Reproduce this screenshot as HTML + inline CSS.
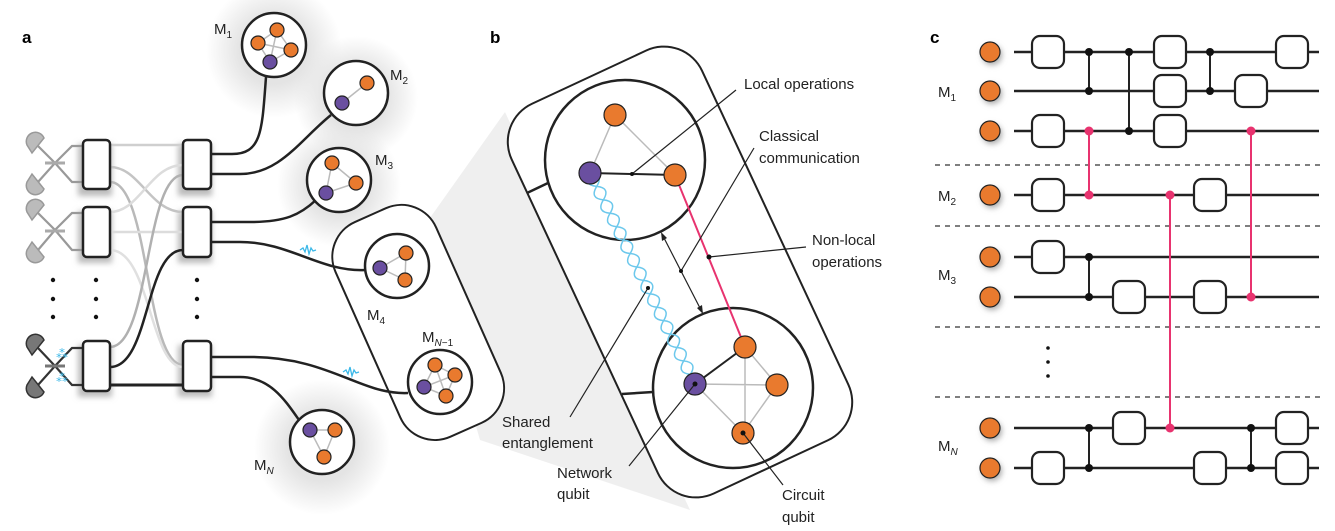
<!DOCTYPE html>
<html><head><meta charset="utf-8"><style>
html,body{margin:0;padding:0;background:#fff;}
svg{display:block;font-family:"Liberation Sans",sans-serif;}
</style></head><body>
<svg width="1335" height="531" viewBox="0 0 1335 531" xmlns="http://www.w3.org/2000/svg">
<defs>
<radialGradient id="halo"><stop offset="0.5" stop-color="#e4e4e4"/><stop offset="1" stop-color="#e4e4e4" stop-opacity="0"/></radialGradient>
<filter id="sh" x="-50%" y="-50%" width="200%" height="200%"><feGaussianBlur stdDeviation="3"/></filter>
</defs>

<!-- labels -->
<text x="22" y="43" font-size="17" font-weight="bold">a</text>
<text x="490" y="43" font-size="17" font-weight="bold">b</text>
<text x="930" y="43" font-size="17" font-weight="bold">c</text>

<!-- halos -->
<circle cx="274" cy="50" r="68" fill="url(#halo)"/>
<circle cx="356" cy="98" r="62" fill="url(#halo)"/>
<circle cx="339" cy="185" r="62" fill="url(#halo)"/>
<circle cx="322" cy="447" r="68" fill="url(#halo)"/>

<!-- gray wedge -->
<polygon points="420,232 505,112 690,510 480,440" fill="#efefef"/>

<!-- panel a: box shadows -->
<g fill="#bbb" filter="url(#sh)">
<rect x="78" y="144" width="34" height="52"/><rect x="78" y="211" width="34" height="52"/><rect x="78" y="345" width="34" height="52"/>
<rect x="178" y="144" width="34" height="52"/><rect x="178" y="211" width="34" height="52"/><rect x="178" y="345" width="34" height="52"/>
</g>

<!-- crossing lines -->
<g fill="none" stroke-width="2.5">
<path d="M110,145 H183" stroke="#cfcfcf"/>
<path d="M110,167 C140,167 150,212 183,212" stroke="#c4c4c4"/>
<path d="M110,182 C150,182 145,365 183,365" stroke="#b9b9b9"/>
<path d="M110,212 C140,212 150,165 183,165" stroke="#dcdcdc"/>
<path d="M110,232 H183" stroke="#dcdcdc"/>
<path d="M110,250 C150,250 150,367 183,367" stroke="#e0e0e0"/>
<path d="M110,347 C150,347 145,175 183,175" stroke="#b0b0b0"/>
<path d="M110,367 C150,367 145,250 183,250" stroke="#222"/>
<path d="M110,385 H183" stroke="#222" stroke-width="3"/>
</g>

<!-- detectors -->
<g stroke-width="2.2" fill="none">
<path d="M38,146 L55,163 L72,182 H83" stroke="#999"/>
<path d="M38,182 L55,163 L72,146 H83" stroke="#999"/>
<path d="M45,163 H65" stroke="#aaa" stroke-width="3"/>
<path d="M38,213 L55,230 L72,250 H83" stroke="#999"/>
<path d="M38,250 L55,230 L72,213 H83" stroke="#999"/>
<path d="M45,231 H65" stroke="#aaa" stroke-width="3"/>
<path d="M38,348 L55,366 L72,385 H83" stroke="#333"/>
<path d="M38,385 L55,366 L72,348 H83" stroke="#333"/>
<path d="M45,366 H65" stroke="#777" stroke-width="3"/>
</g>
<g stroke-width="1.5">
<path d="M27,145 A9,9 0 0 1 44,138 L32,153 Z" fill="#bbb" stroke="#999"/>
<path d="M27,182 A9,9 0 0 0 44,189 L32,174 Z" fill="#bbb" stroke="#999"/>
<path d="M27,212 A9,9 0 0 1 44,205 L32,220 Z" fill="#bbb" stroke="#999"/>
<path d="M27,250 A9,9 0 0 0 44,257 L32,242 Z" fill="#bbb" stroke="#999"/>
<path d="M27,347 A9,9 0 0 1 44,340 L32,355 Z" fill="#777" stroke="#333"/>
<path d="M27,385 A9,9 0 0 0 44,392 L32,377 Z" fill="#777" stroke="#333"/>
</g>
<text x="56" y="358" font-size="12" fill="#3bb8e8">⁂</text>
<text x="56" y="382" font-size="12" fill="#3bb8e8">⁂</text>

<!-- boxes -->
<g fill="#fff" stroke="#222" stroke-width="2.5">
<rect x="83" y="140" width="27" height="49" rx="4"/><rect x="83" y="207" width="27" height="50" rx="4"/><rect x="83" y="341" width="27" height="50" rx="4"/>
<rect x="183" y="140" width="28" height="49" rx="4"/><rect x="183" y="207" width="28" height="50" rx="4"/><rect x="183" y="341" width="28" height="50" rx="4"/>
</g>
<g fill="#111"><circle cx="53" cy="280" r="2.2"/><circle cx="53" cy="299" r="2.2"/><circle cx="53" cy="317" r="2.2"/>
<circle cx="96" cy="280" r="2.2"/><circle cx="96" cy="299" r="2.2"/><circle cx="96" cy="317" r="2.2"/>
<circle cx="197" cy="280" r="2.2"/><circle cx="197" cy="299" r="2.2"/><circle cx="197" cy="317" r="2.2"/></g>

<!-- module box M4/MN-1 -->
<rect x="363" y="205" width="110" height="235" rx="38" transform="rotate(-24 418 322)" fill="#fff" stroke="#222" stroke-width="2"/>

<!-- connections to modules -->
<g fill="none" stroke="#222" stroke-width="2.5">
<path d="M211,154 H232 C262,154 262,130 266,77"/>
<path d="M211,174 H240 C280,174 300,140 331,115"/>
<path d="M211,222 H250 C285,222 300,215 316,200"/>
<path d="M211,242 H240 C290,242 320,272 365,270"/>
<path d="M211,357 H250 C330,357 360,395 408,393"/>
<path d="M211,377 H240 C270,377 285,400 299,420"/>
</g>
<path d="M300,250 l3,-2 2,4 2,-7 2,9 2,-6 2,3 3,-1" fill="none" stroke="#3bb8e8" stroke-width="1.3"/>
<path d="M343,372 l3,-2 2,4 2,-7 2,9 2,-6 2,3 3,-1" fill="none" stroke="#3bb8e8" stroke-width="1.3"/>

<!-- module circles -->
<g fill="#fff" stroke="#222" stroke-width="2.5">
<circle cx="274" cy="45" r="32"/><circle cx="356" cy="93" r="32"/><circle cx="339" cy="180" r="32"/>
<circle cx="397" cy="266" r="32"/><circle cx="440" cy="382" r="32"/><circle cx="322" cy="442" r="32"/>
</g>
<g stroke="#bbb" stroke-width="1.5" fill="none">
<path d="M277,30 L258,43 L270,62 L291,50 Z M277,30 L270,62 M258,43 L291,50"/>
<path d="M367,83 L342,103"/>
<path d="M332,163 L356,183 L326,193 Z"/>
<path d="M380,268 L406,253 L405,280 Z"/>
<path d="M435,365 L455,375 L446,396 L424,387 Z M435,365 L446,396 M455,375 L424,387"/>
<path d="M310,430 L335,430 L324,457 Z"/>
</g>
<g stroke="#222" stroke-width="1.2" fill="#e97a2e">
<circle cx="277" cy="30" r="7"/><circle cx="258" cy="43" r="7"/><circle cx="291" cy="50" r="7"/>
<circle cx="367" cy="83" r="7"/>
<circle cx="332" cy="163" r="7"/><circle cx="356" cy="183" r="7"/>
<circle cx="406" cy="253" r="7"/><circle cx="405" cy="280" r="7"/>
<circle cx="435" cy="365" r="7"/><circle cx="455" cy="375" r="7"/><circle cx="446" cy="396" r="7"/>
<circle cx="335" cy="430" r="7"/><circle cx="324" cy="457" r="7"/>
</g>
<g stroke="#222" stroke-width="1.2" fill="#6a4fa0">
<circle cx="270" cy="62" r="7"/><circle cx="342" cy="103" r="7"/><circle cx="326" cy="193" r="7"/>
<circle cx="380" cy="268" r="7"/><circle cx="424" cy="387" r="7"/><circle cx="310" cy="430" r="7"/>
</g>
<g font-size="15" fill="#222">
<text x="214" y="34">M<tspan font-size="10" dy="4">1</tspan></text>
<text x="390" y="80">M<tspan font-size="10" dy="4">2</tspan></text>
<text x="375" y="165">M<tspan font-size="10" dy="4">3</tspan></text>
<text x="367" y="320">M<tspan font-size="10" dy="4">4</tspan></text>
<text x="422" y="342">M<tspan font-size="10" dy="4" font-style="italic">N</tspan><tspan font-size="10">−1</tspan></text>
<text x="254" y="470">M<tspan font-size="10" dy="4" font-style="italic">N</tspan></text>
</g>

<!-- panel b -->
<rect x="575" y="57" width="210" height="430" rx="42" transform="rotate(-25 680 272)" fill="#fff" stroke="#222" stroke-width="2"/>
<path d="M527,193 L548,183 M622,394 L653,392" stroke="#222" stroke-width="2.5"/>
<circle cx="625" cy="160" r="80" fill="#fff" stroke="#222" stroke-width="2.5"/>
<circle cx="733" cy="388" r="80" fill="#fff" stroke="#222" stroke-width="2.5"/>
<g stroke="#bbb" stroke-width="1.5" fill="none">
<path d="M615,115 L590,173 M615,115 L675,175"/>
<path d="M745,347 L745,433 M695,384 L777,385 M745,347 L777,385 L743,433 L695,384"/>
</g>
<g fill="none" stroke="#6cc8ec" stroke-width="1.5" transform="translate(590,173) rotate(63.5)">
<path d="M0,0 q7.5,-12 15,0 t15,0 t15,0 t15,0 t15,0 t15,0 t15,0 t15,0 t15,0 t15,0 t15,0 t15,0 t15,0 t15,0 t15,0 t11,0"/>
<path d="M0,0 q7.5,12 15,0 t15,0 t15,0 t15,0 t15,0 t15,0 t15,0 t15,0 t15,0 t15,0 t15,0 t15,0 t15,0 t15,0 t15,0 t11,0"/>
</g>
<line x1="590" y1="173" x2="675" y2="175" stroke="#222" stroke-width="2"/>
<line x1="695" y1="384" x2="745" y2="347" stroke="#222" stroke-width="2"/>
<line x1="675" y1="175" x2="745" y2="347" stroke="#e8336f" stroke-width="2"/>
<g stroke="#222" stroke-width="1.2" fill="#e97a2e" >
<circle cx="615" cy="115" r="11"/><circle cx="675" cy="175" r="11"/>
<circle cx="745" cy="347" r="11"/><circle cx="777" cy="385" r="11"/><circle cx="743" cy="433" r="11"/>
</g>
<g stroke="#222" stroke-width="1.2" fill="#6a4fa0"><circle cx="590" cy="173" r="11"/><circle cx="695" cy="384" r="11"/></g>
<!-- double arrow -->
<line x1="663" y1="236" x2="701" y2="310" stroke="#222" stroke-width="1.2"/>
<path d="M661,232 l1,9 l5,-3 z M703,314 l-1,-9 l-5,3 z" fill="#222"/>
<!-- leaders -->
<g stroke="#222" stroke-width="1.2" fill="none">
<path d="M632,174 L736,90"/>
<path d="M681,271 L754,148"/>
<path d="M709,257 L806,247"/>
<path d="M648,288 L570,417"/>
<path d="M695,384 L629,466"/>
<path d="M743,433 L783,485"/>
</g>
<g fill="#111"><circle cx="632" cy="174" r="2"/><circle cx="681" cy="271" r="2"/><circle cx="709" cy="257" r="2.5"/><circle cx="648" cy="288" r="2"/><circle cx="695" cy="384" r="2.5"/><circle cx="743" cy="433" r="2.5"/></g>
<g font-size="15" fill="#222">
<text x="744" y="89">Local operations</text>
<text x="759" y="141">Classical</text><text x="759" y="163">communication</text>
<text x="812" y="245">Non-local</text><text x="812" y="267">operations</text>
<text x="502" y="427">Shared</text><text x="502" y="448">entanglement</text>
<text x="557" y="478">Network</text><text x="557" y="499">qubit</text>
<text x="782" y="500">Circuit</text><text x="782" y="522">qubit</text>
</g>

<!-- panel c -->
<g stroke="#333" stroke-width="1.3" stroke-dasharray="5,5">
<line x1="935" y1="165" x2="1320" y2="165"/><line x1="935" y1="226" x2="1320" y2="226"/>
<line x1="935" y1="327" x2="1320" y2="327"/><line x1="935" y1="397" x2="1320" y2="397"/>
</g>
<g fill="#111"><circle cx="1048" cy="348" r="1.8"/><circle cx="1048" cy="362" r="1.8"/><circle cx="1048" cy="376" r="1.8"/></g>
<g stroke="#222" stroke-width="2.5">
<line x1="1014" y1="52" x2="1319" y2="52"/><line x1="1014" y1="91" x2="1319" y2="91"/><line x1="1014" y1="131" x2="1319" y2="131"/>
<line x1="1014" y1="195" x2="1319" y2="195"/><line x1="1014" y1="257" x2="1319" y2="257"/><line x1="1014" y1="297" x2="1319" y2="297"/>
<line x1="1014" y1="428" x2="1319" y2="428"/><line x1="1014" y1="468" x2="1319" y2="468"/>
</g>
<g stroke="#222" stroke-width="2">
<line x1="1089" y1="52" x2="1089" y2="91"/><line x1="1129" y1="52" x2="1129" y2="131"/><line x1="1210" y1="52" x2="1210" y2="91"/>
<line x1="1089" y1="257" x2="1089" y2="297"/><line x1="1089" y1="428" x2="1089" y2="468"/><line x1="1251" y1="428" x2="1251" y2="468"/>
</g>
<g stroke="#e8336f" stroke-width="2">
<line x1="1089" y1="131" x2="1089" y2="195"/><line x1="1251" y1="131" x2="1251" y2="297"/><line x1="1170" y1="195" x2="1170" y2="428"/>
</g>
<g fill="#111">
<circle cx="1089" cy="52" r="4"/><circle cx="1129" cy="52" r="4"/><circle cx="1210" cy="52" r="4"/>
<circle cx="1089" cy="91" r="4"/><circle cx="1210" cy="91" r="4"/><circle cx="1129" cy="131" r="4"/>
<circle cx="1089" cy="257" r="4"/><circle cx="1089" cy="297" r="4"/>
<circle cx="1089" cy="428" r="4"/><circle cx="1251" cy="428" r="4"/><circle cx="1089" cy="468" r="4"/><circle cx="1251" cy="468" r="4"/>
</g>
<g fill="#e8336f">
<circle cx="1089" cy="131" r="4.5"/><circle cx="1251" cy="131" r="4.5"/><circle cx="1089" cy="195" r="4.5"/><circle cx="1170" cy="195" r="4.5"/>
<circle cx="1251" cy="297" r="4.5"/><circle cx="1170" cy="428" r="4.5"/>
</g>
<g fill="#fff" stroke="#222" stroke-width="2.2">
<rect x="1032" y="36" width="32" height="32" rx="8"/><rect x="1154" y="36" width="32" height="32" rx="8"/><rect x="1276" y="36" width="32" height="32" rx="8"/>
<rect x="1154" y="75" width="32" height="32" rx="8"/><rect x="1235" y="75" width="32" height="32" rx="8"/>
<rect x="1032" y="115" width="32" height="32" rx="8"/><rect x="1154" y="115" width="32" height="32" rx="8"/>
<rect x="1032" y="179" width="32" height="32" rx="8"/><rect x="1194" y="179" width="32" height="32" rx="8"/>
<rect x="1032" y="241" width="32" height="32" rx="8"/>
<rect x="1113" y="281" width="32" height="32" rx="8"/><rect x="1194" y="281" width="32" height="32" rx="8"/>
<rect x="1113" y="412" width="32" height="32" rx="8"/><rect x="1276" y="412" width="32" height="32" rx="8"/>
<rect x="1032" y="452" width="32" height="32" rx="8"/><rect x="1194" y="452" width="32" height="32" rx="8"/><rect x="1276" y="452" width="32" height="32" rx="8"/>
</g>
<g fill="#aaa" filter="url(#sh)">
<circle cx="992" cy="55" r="10"/><circle cx="992" cy="94" r="10"/><circle cx="992" cy="134" r="10"/><circle cx="992" cy="198" r="10"/>
<circle cx="992" cy="260" r="10"/><circle cx="992" cy="300" r="10"/><circle cx="992" cy="431" r="10"/><circle cx="992" cy="471" r="10"/>
</g>
<g fill="#e97a2e" stroke="#222" stroke-width="1.2">
<circle cx="990" cy="52" r="10"/><circle cx="990" cy="91" r="10"/><circle cx="990" cy="131" r="10"/><circle cx="990" cy="195" r="10"/>
<circle cx="990" cy="257" r="10"/><circle cx="990" cy="297" r="10"/><circle cx="990" cy="428" r="10"/><circle cx="990" cy="468" r="10"/>
</g>
<g font-size="15" fill="#222">
<text x="938" y="97">M<tspan font-size="10" dy="4">1</tspan></text>
<text x="938" y="201">M<tspan font-size="10" dy="4">2</tspan></text>
<text x="938" y="280">M<tspan font-size="10" dy="4">3</tspan></text>
<text x="938" y="451">M<tspan font-size="10" dy="4" font-style="italic">N</tspan></text>
</g>
</svg>
</body></html>
